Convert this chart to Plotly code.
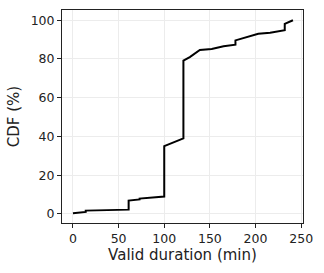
import plotly.graph_objects as go

# ECDF (duplicate x values = vertical jumps)
duration_min = [0, 14, 14, 61, 61, 73, 73, 100, 100, 110, 121, 121, 128, 139, 152,
                165, 178, 178, 190.6, 203, 216, 227, 232, 232, 241]
cdf_pct = [0.3, 1.0, 1.7, 2.2, 6.9, 7.5, 7.9, 9.0, 35.0, 37.0, 39.0, 79.2, 81.0, 84.7, 85.2,
           86.6, 87.4, 89.6, 91.4, 93.0, 93.6, 94.5, 94.9, 98.1, 100.0]

x_ticks = [0, 50, 100, 150, 200, 250]
y_ticks = [0, 20, 40, 60, 80, 100]

fig = go.Figure(
    go.Scatter(x=duration_min, y=cdf_pct, mode="lines",
               line=dict(color="black", width=2), showlegend=False)
)

axis_common = dict(
    showline=True, mirror=True, linecolor="#222", linewidth=1,
    ticks="outside", ticklen=4, tickcolor="#222",
    showgrid=True, gridcolor="#ececec", gridwidth=1, zeroline=False,
    tickfont=dict(family="DejaVu Sans", size=12.5, color="#222"),
    automargin=False,
)

fig.update_layout(
    width=324, height=273,
    margin=dict(l=62, r=21, t=10, b=50),
    paper_bgcolor="white", plot_bgcolor="white",
    xaxis=dict(axis_common, range=[-12, 252], tickvals=x_ticks,
               title=dict(text="Valid duration (min)", standoff=0,
                          font=dict(family="DejaVu Sans", size=15, color="#222"))),
    yaxis=dict(axis_common, range=[-4.7, 105.3], tickvals=y_ticks,
               title=dict(text="CDF (%)", standoff=7,
                          font=dict(family="DejaVu Sans", size=15, color="#222"))),
)

# drop the browser's default 8px body margin so the figure sits at the page corner
fig.write_html("out.html", config={"displayModeBar": False},
               post_script="document.body.style.margin='0';")
